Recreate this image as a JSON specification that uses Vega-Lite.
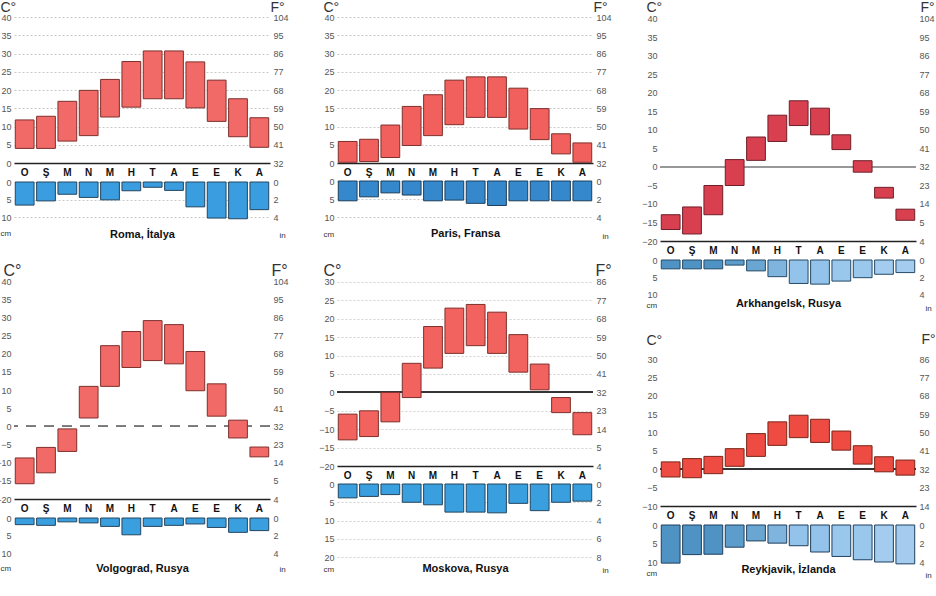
{
  "$schema": "https://vega.github.io/schema/vega-lite/v6.json",
  "background": "white",
  "padding": {"left": -5, "top": 0, "right": 0, "bottom": 0},
  "datasets": {
    "climate": [
      {"city": "Roma", "m": 1, "lo": 4, "hi": 11.8, "p": 6.6},
      {"city": "Roma", "m": 2, "lo": 4, "hi": 12.8, "p": 5.4},
      {"city": "Roma", "m": 3, "lo": 6, "hi": 16.9, "p": 3.5},
      {"city": "Roma", "m": 4, "lo": 7.5, "hi": 19.9, "p": 4.4},
      {"city": "Roma", "m": 5, "lo": 12.6, "hi": 22.9, "p": 5.1},
      {"city": "Roma", "m": 6, "lo": 15.3, "hi": 27.8, "p": 2.5},
      {"city": "Roma", "m": 7, "lo": 17.6, "hi": 30.7, "p": 1.5},
      {"city": "Roma", "m": 8, "lo": 17.6, "hi": 30.7, "p": 2.4},
      {"city": "Roma", "m": 9, "lo": 15.1, "hi": 27.7, "p": 7.1},
      {"city": "Roma", "m": 10, "lo": 11.4, "hi": 22.7, "p": 10.3},
      {"city": "Roma", "m": 11, "lo": 7.2, "hi": 17.6, "p": 10.5},
      {"city": "Roma", "m": 12, "lo": 4.3, "hi": 12.4, "p": 7.9},
      {"city": "Paris", "m": 1, "lo": 0.2, "hi": 5.9, "p": 5.5},
      {"city": "Paris", "m": 2, "lo": 0.4, "hi": 6.5, "p": 4.4},
      {"city": "Paris", "m": 3, "lo": 1.5, "hi": 10.4, "p": 3.3},
      {"city": "Paris", "m": 4, "lo": 4.8, "hi": 15.5, "p": 3.9},
      {"city": "Paris", "m": 5, "lo": 7.5, "hi": 18.7, "p": 5.5},
      {"city": "Paris", "m": 6, "lo": 10.5, "hi": 22.7, "p": 5.3},
      {"city": "Paris", "m": 7, "lo": 12.5, "hi": 23.6, "p": 6.2},
      {"city": "Paris", "m": 8, "lo": 12.5, "hi": 23.6, "p": 6.8},
      {"city": "Paris", "m": 9, "lo": 9.3, "hi": 20.5, "p": 5.5},
      {"city": "Paris", "m": 10, "lo": 6.4, "hi": 14.9, "p": 5.5},
      {"city": "Paris", "m": 11, "lo": 2.5, "hi": 8, "p": 5.5},
      {"city": "Paris", "m": 12, "lo": 0.2, "hi": 5.5, "p": 5.5},
      {"city": "Arkhangelsk", "m": 1, "lo": -16.9, "hi": -12.9, "p": 2.6},
      {"city": "Arkhangelsk", "m": 2, "lo": -18.1, "hi": -10.8, "p": 2.6},
      {"city": "Arkhangelsk", "m": 3, "lo": -12.9, "hi": -5, "p": 2.6},
      {"city": "Arkhangelsk", "m": 4, "lo": -5, "hi": 2, "p": 1.5},
      {"city": "Arkhangelsk", "m": 5, "lo": 1.8, "hi": 8.1, "p": 3.2},
      {"city": "Arkhangelsk", "m": 6, "lo": 6.9, "hi": 14, "p": 4.9},
      {"city": "Arkhangelsk", "m": 7, "lo": 11.2, "hi": 17.9, "p": 6.9},
      {"city": "Arkhangelsk", "m": 8, "lo": 8.7, "hi": 15.9, "p": 7.1},
      {"city": "Arkhangelsk", "m": 9, "lo": 4.7, "hi": 8.7, "p": 6.2},
      {"city": "Arkhangelsk", "m": 10, "lo": -1.4, "hi": 1.7, "p": 5.2},
      {"city": "Arkhangelsk", "m": 11, "lo": -8.4, "hi": -5.5, "p": 4.2},
      {"city": "Arkhangelsk", "m": 12, "lo": -14.4, "hi": -11.4, "p": 3.7},
      {"city": "Volgograd", "m": 1, "lo": -15.8, "hi": -8.7, "p": 1.9},
      {"city": "Volgograd", "m": 2, "lo": -12.8, "hi": -5.8, "p": 2.1},
      {"city": "Volgograd", "m": 3, "lo": -6.9, "hi": -0.7, "p": 1.1},
      {"city": "Volgograd", "m": 4, "lo": 2.3, "hi": 11, "p": 1.4},
      {"city": "Volgograd", "m": 5, "lo": 11, "hi": 22.2, "p": 2.4},
      {"city": "Volgograd", "m": 6, "lo": 16.2, "hi": 26.1, "p": 4.8},
      {"city": "Volgograd", "m": 7, "lo": 18.1, "hi": 29.1, "p": 2.4},
      {"city": "Volgograd", "m": 8, "lo": 17.2, "hi": 28, "p": 2.1},
      {"city": "Volgograd", "m": 9, "lo": 9.8, "hi": 20.6, "p": 1.7},
      {"city": "Volgograd", "m": 10, "lo": 2.8, "hi": 11.7, "p": 2.7},
      {"city": "Volgograd", "m": 11, "lo": -3.2, "hi": 1.7, "p": 4.1},
      {"city": "Volgograd", "m": 12, "lo": -8.4, "hi": -5.7, "p": 3.6},
      {"city": "Moskova", "m": 1, "lo": -12.9, "hi": -5.9, "p": 3.8},
      {"city": "Moskova", "m": 2, "lo": -12, "hi": -5, "p": 3.4},
      {"city": "Moskova", "m": 3, "lo": -8, "hi": 0, "p": 2.9},
      {"city": "Moskova", "m": 4, "lo": -1.4, "hi": 7.9, "p": 5},
      {"city": "Moskova", "m": 5, "lo": 6.6, "hi": 17.9, "p": 5.7},
      {"city": "Moskova", "m": 6, "lo": 10.6, "hi": 22.9, "p": 7.7},
      {"city": "Moskova", "m": 7, "lo": 12.7, "hi": 23.9, "p": 7.7},
      {"city": "Moskova", "m": 8, "lo": 10.6, "hi": 21.8, "p": 7.9},
      {"city": "Moskova", "m": 9, "lo": 5.5, "hi": 15.7, "p": 5.3},
      {"city": "Moskova", "m": 10, "lo": 0.7, "hi": 7.7, "p": 7.3},
      {"city": "Moskova", "m": 11, "lo": -5.5, "hi": -1.4, "p": 5},
      {"city": "Moskova", "m": 12, "lo": -11.5, "hi": -5.5, "p": 4.7},
      {"city": "Reykjavik", "m": 1, "lo": -2.1, "hi": 2, "p": 10.3},
      {"city": "Reykjavik", "m": 2, "lo": -2.3, "hi": 2.9, "p": 8},
      {"city": "Reykjavik", "m": 3, "lo": -1.2, "hi": 3.5, "p": 7.9},
      {"city": "Reykjavik", "m": 4, "lo": 0.8, "hi": 5.6, "p": 6},
      {"city": "Reykjavik", "m": 5, "lo": 3.5, "hi": 9.7, "p": 4.3},
      {"city": "Reykjavik", "m": 6, "lo": 6.5, "hi": 12.9, "p": 4.9},
      {"city": "Reykjavik", "m": 7, "lo": 8.6, "hi": 14.7, "p": 5.6},
      {"city": "Reykjavik", "m": 8, "lo": 7.3, "hi": 13.6, "p": 7.3},
      {"city": "Reykjavik", "m": 9, "lo": 5.2, "hi": 10.4, "p": 8.5},
      {"city": "Reykjavik", "m": 10, "lo": 1.4, "hi": 6.4, "p": 9.4},
      {"city": "Reykjavik", "m": 11, "lo": -0.7, "hi": 3.4, "p": 10},
      {"city": "Reykjavik", "m": 12, "lo": -1.6, "hi": 2.5, "p": 10.5}
    ]
  },
  "data": {"name": "climate"},
  "spacing": 29,
  "hconcat": [
    {
      "bounds": "flush",
      "spacing": 19,
      "vconcat": [
        {
          "width": 256, "height": 146,
          "transform": [{"filter": "datum.city === 'Roma'"}],
          "resolve": {"scale": {"y": "independent"}},
          "layer": [
            {
              "mark": {"type": "bar", "fill": "#f26a68", "stroke": "#7e302c", "strokeWidth": 1},
              "encoding": {
                "x": {"field": "m", "type": "ordinal", "scale": {"paddingInner": 0.12, "paddingOuter": 0.06}, "axis": {"title": null, "labelExpr": "['O','Ş','M','N','M','H','T','A','E','E','K','A'][datum.value-1]"}},
                "y": {"field": "lo", "type": "quantitative", "scale": {"domain": [0, 40], "nice": false, "zero": false},
                  "axis": {"values": [0,5,10,15,20,25,30,35,40], "title": "C°", "titleX": -14, "titleY": -6, "titleFontSize": 14, "grid": true, "gridDash": [2, 2], "gridColor": "#c8c8c8"}},
                "y2": {"field": "hi"}
              }
            },
            {
              "mark": {"type": "tick", "opacity": 0},
              "encoding": {
                "x": {"field": "m", "type": "ordinal"},
                "y": {"field": "hi", "type": "quantitative", "scale": {"domain": [0, 40], "nice": false, "zero": false},
                  "axis": {"orient": "right", "values": [0,5,10,15,20,25,30,35,40], "labelExpr": "format(abs(datum.value*9/5+32),'d')", "title": "F°", "titleX": 0, "titleY": -6, "titleFontSize": 14}}
              }
            }
          ]
        },
        {
          "width": 256, "height": 35,
          "transform": [{"filter": "datum.city === 'Roma'"}],
          "resolve": {"scale": {"y": "independent"}},
          "layer": [
            {
              "mark": {"type": "bar", "fill": "#3a9de0", "stroke": "#24465f", "strokeWidth": 1},
              "encoding": {
                "x": {"field": "m", "type": "ordinal", "scale": {"paddingInner": 0.12, "paddingOuter": 0.06},
                  "axis": {"title": "Roma, İtalya", "labels": false, "domain": false, "titleX": 128, "titleY": 17, "titleAlign": "center", "titleBaseline": "middle", "titleFontSize": 11, "titleFontWeight": "bold", "titleColor": "#111"}},
                "y": {"field": "p", "type": "quantitative", "scale": {"domain": [0, 10], "nice": false, "reverse": true},
                  "axis": {"values": [0, 5, 10], "title": "cm", "titleX": -14, "titleY": 53, "titleFontSize": 8, "grid": true, "gridDash": [2, 2], "gridColor": "#c8c8c8"}}
              }
            },
            {
              "mark": {"type": "tick", "opacity": 0},
              "encoding": {
                "x": {"field": "m", "type": "ordinal"},
                "y": {"field": "p", "type": "quantitative", "scale": {"domain": [0, 10], "nice": false, "reverse": true},
                  "axis": {"orient": "right", "values": [0, 5, 10], "labelExpr": "format(datum.value/2.5,'d')", "title": "in", "titleX": 9, "titleY": 55, "titleFontSize": 8}}
              }
            }
          ]
        },
        {
          "width": 256, "height": 263,
          "transform": [{"filter": "datum.city === 'Volgograd'"}],
          "resolve": {"scale": {"y": "independent"}},
          "layer": [
            {
              "mark": {"type": "rule", "stroke": "#777", "strokeDash": [10, 8], "strokeWidth": 1},
              "encoding": {"y": {"datum": 0, "type": "quantitative", "scale": {"domain": [-20, 52.39], "nice": false, "zero": false}, "axis": null}}
            },
            {
              "mark": {"type": "bar", "fill": "#f26a68", "stroke": "#7e302c", "strokeWidth": 1},
              "encoding": {
                "x": {"field": "m", "type": "ordinal", "scale": {"paddingInner": 0.12, "paddingOuter": 0.06}, "axis": {"title": null, "labelExpr": "['O','Ş','M','N','M','H','T','A','E','E','K','A'][datum.value-1]"}},
                "y": {"field": "lo", "type": "quantitative", "scale": {"domain": [-20, 52.39], "nice": false, "zero": false},
                  "axis": {"values": [-20,-15,-10,-5,0,5,10,15,20,25,30,35,40], "title": "C°", "titleX": -11, "titleY": 39, "titleFontSize": 16}},
                "y2": {"field": "hi"}
              }
            },
            {
              "mark": {"type": "tick", "opacity": 0},
              "encoding": {
                "x": {"field": "m", "type": "ordinal"},
                "y": {"field": "hi", "type": "quantitative", "scale": {"domain": [-20, 52.39], "nice": false, "zero": false},
                  "axis": {"orient": "right", "values": [-20,-15,-10,-5,0,5,10,15,20,25,30,35,40], "labelExpr": "format(abs(datum.value*9/5+32),'d')", "title": "F°", "titleX": 1, "titleY": 39, "titleFontSize": 16}}
              }
            }
          ]
        },
        {
          "width": 256, "height": 35,
          "transform": [{"filter": "datum.city === 'Volgograd'"}],
          "resolve": {"scale": {"y": "independent"}},
          "layer": [
            {
              "mark": {"type": "bar", "fill": "#3a9fdf", "stroke": "#24465f", "strokeWidth": 1},
              "encoding": {
                "x": {"field": "m", "type": "ordinal", "scale": {"paddingInner": 0.12, "paddingOuter": 0.06},
                  "axis": {"title": "Volgograd, Rusya", "labels": false, "domain": false, "titleX": 128, "titleY": 15, "titleAlign": "center", "titleBaseline": "middle", "titleFontSize": 11, "titleFontWeight": "bold", "titleColor": "#111"}},
                "y": {"field": "p", "type": "quantitative", "scale": {"domain": [0, 10], "nice": false, "reverse": true},
                  "axis": {"values": [0, 5, 10], "title": "cm", "titleX": -14, "titleY": 52, "titleFontSize": 8}}
              }
            },
            {
              "mark": {"type": "tick", "opacity": 0},
              "encoding": {
                "x": {"field": "m", "type": "ordinal"},
                "y": {"field": "p", "type": "quantitative", "scale": {"domain": [0, 10], "nice": false, "reverse": true},
                  "axis": {"orient": "right", "values": [0, 5, 10], "labelExpr": "format(datum.value/2.5,'d')", "title": "in", "titleX": 9, "titleY": 53, "titleFontSize": 8}}
              }
            }
          ]
        }
      ]
    },
    {
      "bounds": "flush",
      "spacing": 18,
      "vconcat": [
        {
          "width": 256, "height": 146,
          "transform": [{"filter": "datum.city === 'Paris'"}],
          "resolve": {"scale": {"y": "independent"}},
          "layer": [
            {
              "mark": {"type": "bar", "fill": "#f2605e", "stroke": "#7e302c", "strokeWidth": 1},
              "encoding": {
                "x": {"field": "m", "type": "ordinal", "scale": {"paddingInner": 0.12, "paddingOuter": 0.06}, "axis": {"title": null, "labelExpr": "['O','Ş','M','N','M','H','T','A','E','E','K','A'][datum.value-1]"}},
                "y": {"field": "lo", "type": "quantitative", "scale": {"domain": [0, 40], "nice": false, "zero": false},
                  "axis": {"values": [0,5,10,15,20,25,30,35,40], "title": "C°", "titleX": -14, "titleY": -6, "titleFontSize": 14, "grid": true, "gridDash": [2, 2], "gridColor": "#c8c8c8"}},
                "y2": {"field": "hi"}
              }
            },
            {
              "mark": {"type": "tick", "opacity": 0},
              "encoding": {
                "x": {"field": "m", "type": "ordinal"},
                "y": {"field": "hi", "type": "quantitative", "scale": {"domain": [0, 40], "nice": false, "zero": false},
                  "axis": {"orient": "right", "values": [0,5,10,15,20,25,30,35,40], "labelExpr": "format(abs(datum.value*9/5+32),'d')", "title": "F°", "titleX": 0, "titleY": -6, "titleFontSize": 14}}
              }
            }
          ]
        },
        {
          "width": 256, "height": 36,
          "transform": [{"filter": "datum.city === 'Paris'"}],
          "resolve": {"scale": {"y": "independent"}},
          "layer": [
            {
              "mark": {"type": "bar", "fill": "#3588cc", "stroke": "#1e3f5a", "strokeWidth": 1},
              "encoding": {
                "x": {"field": "m", "type": "ordinal", "scale": {"paddingInner": 0.12, "paddingOuter": 0.06},
                  "axis": {"title": "Paris, Fransa", "labels": false, "domain": false, "titleX": 128, "titleY": 16, "titleAlign": "center", "titleBaseline": "middle", "titleFontSize": 11, "titleFontWeight": "bold", "titleColor": "#111"}},
                "y": {"field": "p", "type": "quantitative", "scale": {"domain": [0, 10], "nice": false, "reverse": true},
                  "axis": {"values": [0, 5, 10], "title": "cm", "titleX": -14, "titleY": 55, "titleFontSize": 8, "grid": true, "gridDash": [2, 2], "gridColor": "#c8c8c8"}}
              }
            },
            {
              "mark": {"type": "tick", "opacity": 0},
              "encoding": {
                "x": {"field": "m", "type": "ordinal"},
                "y": {"field": "p", "type": "quantitative", "scale": {"domain": [0, 10], "nice": false, "reverse": true},
                  "axis": {"orient": "right", "values": [0, 5, 10], "labelExpr": "format(datum.value/2.5,'d')", "title": "in", "titleX": 9, "titleY": 57, "titleFontSize": 8}}
              }
            }
          ]
        },
        {
          "width": 256, "height": 231,
          "transform": [{"filter": "datum.city === 'Moskova'"}],
          "resolve": {"scale": {"y": "independent"}},
          "layer": [
            {
              "mark": {"type": "rule", "stroke": "#333", "strokeWidth": 1.2},
              "encoding": {"y": {"datum": 0, "type": "quantitative", "scale": {"domain": [-20, 42.77], "nice": false, "zero": false}, "axis": null}}
            },
            {
              "mark": {"type": "bar", "fill": "#f2625e", "stroke": "#7e302c", "strokeWidth": 1},
              "encoding": {
                "x": {"field": "m", "type": "ordinal", "scale": {"paddingInner": 0.12, "paddingOuter": 0.06}, "axis": {"title": null, "labelExpr": "['O','Ş','M','N','M','H','T','A','E','E','K','A'][datum.value-1]"}},
                "y": {"field": "lo", "type": "quantitative", "scale": {"domain": [-20, 42.77], "nice": false, "zero": false},
                  "axis": {"values": [-20,-15,-10,-5,0,5,10,15,20,25,30], "title": "C°", "titleX": -14, "titleY": 40, "titleFontSize": 16, "grid": true, "gridDash": [2, 2], "gridColor": "#d0d0d0"}},
                "y2": {"field": "hi"}
              }
            },
            {
              "mark": {"type": "tick", "opacity": 0},
              "encoding": {
                "x": {"field": "m", "type": "ordinal"},
                "y": {"field": "hi", "type": "quantitative", "scale": {"domain": [-20, 42.77], "nice": false, "zero": false},
                  "axis": {"orient": "right", "values": [-20,-15,-10,-5,0,5,10,15,20,25,30], "labelExpr": "format(abs(datum.value*9/5+32),'d')", "title": "F°", "titleX": 2, "titleY": 40, "titleFontSize": 16}}
              }
            }
          ]
        },
        {
          "width": 256, "height": 73,
          "transform": [{"filter": "datum.city === 'Moskova'"}],
          "resolve": {"scale": {"y": "independent"}},
          "layer": [
            {
              "mark": {"type": "bar", "fill": "#3a9fdf", "stroke": "#24465f", "strokeWidth": 1},
              "encoding": {
                "x": {"field": "m", "type": "ordinal", "scale": {"paddingInner": 0.12, "paddingOuter": 0.06},
                  "axis": {"title": "Moskova, Rusya", "labels": false, "domain": false, "titleX": 128, "titleY": 11, "titleAlign": "center", "titleBaseline": "middle", "titleFontSize": 11, "titleFontWeight": "bold", "titleColor": "#111"}},
                "y": {"field": "p", "type": "quantitative", "scale": {"domain": [0, 20], "nice": false, "reverse": true},
                  "axis": {"values": [0, 5, 10, 15, 20], "title": "cm", "titleX": -14, "titleY": 87, "titleFontSize": 8, "grid": true, "gridDash": [2, 2], "gridColor": "#d0d0d0"}}
              }
            },
            {
              "mark": {"type": "tick", "opacity": 0},
              "encoding": {
                "x": {"field": "m", "type": "ordinal"},
                "y": {"field": "p", "type": "quantitative", "scale": {"domain": [0, 20], "nice": false, "reverse": true},
                  "axis": {"orient": "right", "values": [0, 5, 10, 15, 20], "labelExpr": "format(datum.value/2.5,'d')", "title": "in", "titleX": 9, "titleY": 88, "titleFontSize": 8}}
              }
            }
          ]
        }
      ]
    },
    {
      "bounds": "flush",
      "spacing": 19,
      "vconcat": [
        {
          "width": 256, "height": 224,
          "transform": [{"filter": "datum.city === 'Arkhangelsk'"}],
          "resolve": {"scale": {"y": "independent"}},
          "layer": [
            {
              "mark": {"type": "rule", "stroke": "#999", "strokeWidth": 1},
              "encoding": {"y": {"datum": 0, "type": "quantitative", "scale": {"domain": [-20, 40.54], "nice": false, "zero": false}, "axis": null}}
            },
            {
              "mark": {"type": "bar", "fill": "#d9404f", "stroke": "#6e1e28", "strokeWidth": 1},
              "encoding": {
                "x": {"field": "m", "type": "ordinal", "scale": {"paddingInner": 0.12, "paddingOuter": 0.06}, "axis": {"title": null, "labelExpr": "['O','Ş','M','N','M','H','T','A','E','E','K','A'][datum.value-1]"}},
                "y": {"field": "lo", "type": "quantitative", "scale": {"domain": [-20, 40.54], "nice": false, "zero": false},
                  "axis": {"values": [-20,-15,-10,-5,0,5,10,15,20,25,30,35,40], "title": "C°", "titleX": -14, "titleY": -6, "titleFontSize": 14}},
                "y2": {"field": "hi"}
              }
            },
            {
              "mark": {"type": "tick", "opacity": 0},
              "encoding": {
                "x": {"field": "m", "type": "ordinal"},
                "y": {"field": "hi", "type": "quantitative", "scale": {"domain": [-20, 40.54], "nice": false, "zero": false},
                  "axis": {"orient": "right", "values": [-20,-15,-10,-5,0,5,10,15,20,25,30,35,40], "labelExpr": "format(abs(datum.value*9/5+32),'d')", "title": "F°", "titleX": 4, "titleY": -6, "titleFontSize": 14}}
              }
            }
          ]
        },
        {
          "width": 256, "height": 34,
          "transform": [{"filter": "datum.city === 'Arkhangelsk'"}],
          "resolve": {"scale": {"y": "independent"}},
          "layer": [
            {
              "mark": {"type": "bar", "stroke": "#254a66", "strokeWidth": 1},
              "encoding": {
                "x": {"field": "m", "type": "ordinal", "scale": {"paddingInner": 0.12, "paddingOuter": 0.06},
                  "axis": {"title": "Arkhangelsk, Rusya", "labels": false, "domain": false, "titleX": 128, "titleY": 9, "titleAlign": "center", "titleBaseline": "middle", "titleFontSize": 11, "titleFontWeight": "bold", "titleColor": "#111"}},
                "y": {"field": "p", "type": "quantitative", "scale": {"domain": [0, 10], "nice": false, "reverse": true},
                  "axis": {"values": [0, 5, 10], "title": "cm", "titleX": -14, "titleY": 47, "titleFontSize": 8}},
                "fill": {"field": "m", "type": "ordinal", "legend": null,
                  "scale": {"range": ["#4f93c4", "#4f93c4", "#4f93c4", "#5d9dcc", "#6aa6d2", "#7fb4de", "#93c3ea", "#93c3ea", "#9ac7ec", "#9ac7ec", "#a3ccee", "#a3ccee"]}}
              }
            },
            {
              "mark": {"type": "tick", "opacity": 0},
              "encoding": {
                "x": {"field": "m", "type": "ordinal"},
                "y": {"field": "p", "type": "quantitative", "scale": {"domain": [0, 10], "nice": false, "reverse": true},
                  "axis": {"orient": "right", "values": [0, 5, 10], "labelExpr": "format(datum.value/2.5,'d')", "title": "in", "titleX": 9, "titleY": 50, "titleFontSize": 8}}
              }
            }
          ]
        },
        {
          "width": 256, "height": 193,
          "transform": [{"filter": "datum.city === 'Reykjavik'"}],
          "resolve": {"scale": {"y": "independent"}},
          "layer": [
            {
              "mark": {"type": "rule", "stroke": "#333", "strokeWidth": 1},
              "encoding": {"y": {"datum": 0, "type": "quantitative", "scale": {"domain": [-10, 42.52], "nice": false, "zero": false}, "axis": null}}
            },
            {
              "mark": {"type": "bar", "fill": "#ee4c42", "stroke": "#7a2418", "strokeWidth": 1},
              "encoding": {
                "x": {"field": "m", "type": "ordinal", "scale": {"paddingInner": 0.12, "paddingOuter": 0.06}, "axis": {"title": null, "labelExpr": "['O','Ş','M','N','M','H','T','A','E','E','K','A'][datum.value-1]"}},
                "y": {"field": "lo", "type": "quantitative", "scale": {"domain": [-10, 42.52], "nice": false, "zero": false},
                  "axis": {"values": [-10,-5,0,5,10,15,20,25,30], "title": "C°", "titleX": -14, "titleY": 31, "titleFontSize": 14}},
                "y2": {"field": "hi"}
              }
            },
            {
              "mark": {"type": "tick", "opacity": 0},
              "encoding": {
                "x": {"field": "m", "type": "ordinal"},
                "y": {"field": "hi", "type": "quantitative", "scale": {"domain": [-10, 42.52], "nice": false, "zero": false},
                  "axis": {"orient": "right", "values": [-10,-5,0,5,10,15,20,25,30], "labelExpr": "format(abs(datum.value*9/5+32),'d')", "title": "F°", "titleX": 5, "titleY": 30, "titleFontSize": 14}}
              }
            }
          ]
        },
        {
          "width": 256, "height": 37,
          "transform": [{"filter": "datum.city === 'Reykjavik'"}],
          "resolve": {"scale": {"y": "independent"}},
          "layer": [
            {
              "mark": {"type": "bar", "stroke": "#1f3f5e", "strokeWidth": 1},
              "encoding": {
                "x": {"field": "m", "type": "ordinal", "scale": {"paddingInner": 0.12, "paddingOuter": 0.06},
                  "axis": {"title": "Reykjavik, İzlanda", "labels": false, "domain": false, "titleX": 128, "titleY": 7, "titleAlign": "center", "titleBaseline": "middle", "titleFontSize": 11, "titleFontWeight": "bold", "titleColor": "#111"}},
                "y": {"field": "p", "type": "quantitative", "scale": {"domain": [0, 10], "nice": false, "reverse": true},
                  "axis": {"values": [0, 5, 10], "title": "cm", "titleX": -14, "titleY": 50, "titleFontSize": 8}},
                "fill": {"field": "m", "type": "ordinal", "legend": null,
                  "scale": {"range": ["#46a2e2", "#86bde8", "#5eaee4", "#8cc0e8", "#8cc0e8", "#8cc0e8", "#98c6ec", "#98c6ec", "#9ecaee", "#a4cef0", "#a4cef0", "#a8d0f0"]}}
              }
            },
            {
              "mark": {"type": "tick", "opacity": 0},
              "encoding": {
                "x": {"field": "m", "type": "ordinal"},
                "y": {"field": "p", "type": "quantitative", "scale": {"domain": [0, 10], "nice": false, "reverse": true},
                  "axis": {"orient": "right", "values": [0, 5, 10], "labelExpr": "format(datum.value/2.5,'d')", "title": "in", "titleX": 9, "titleY": 52, "titleFontSize": 8}}
              }
            }
          ]
        }
      ]
    }
  ],
  "config": {
    "view": {"stroke": null},
    "font": "Liberation Sans",
    "axis": {
      "labelFont": "Liberation Sans", "labelFontSize": 9, "labelColor": "#555",
      "ticks": false, "domain": false, "grid": false, "labelPadding": 3,
      "titleFont": "Liberation Sans", "titleFontWeight": "normal", "titleColor": "#333",
      "titleAngle": 0, "titleAlign": "left", "titleBaseline": "alphabetic"
    },
    "axisBottom": {
      "domain": true, "domainColor": "#222", "domainWidth": 1.5,
      "labelFontWeight": "bold", "labelFontSize": 10, "labelColor": "#111",
      "labelPadding": 4, "labelAngle": 0
    }
  }
}
